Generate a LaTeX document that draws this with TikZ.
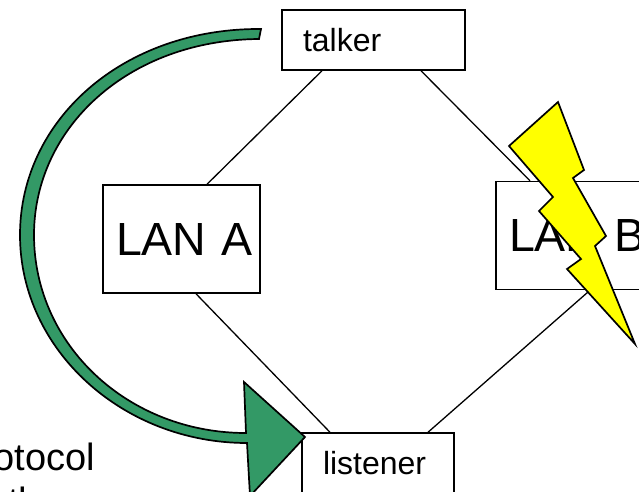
\documentclass[tikz,border=0pt]{standalone}
\usepackage{fontspec}
\setmainfont{Liberation Sans}
\usepackage{xcolor}
\usetikzlibrary{calc}
\definecolor{arcgreen}{HTML}{339966}
\definecolor{boltyellow}{HTML}{FFFF00}
\tikzset{
  stationbox/.style={draw,line width=1.5pt,fill=white,inner ysep=0pt,align=left},
  lanbox/.style={stationbox,inner xsep=13pt,text width=131pt,minimum height=108pt,font=\fontsize{46.5}{50}\selectfont},
  hostbox/.style={stationbox,inner xsep=21pt,font=\fontsize{32}{36}\selectfont},
  link/.style={line width=1.3pt}
}
\begin{document}
\begin{tikzpicture}[x=1pt,y=-1pt]
\useasboundingbox (0,0) rectangle (639,491);
\clip (0,0) rectangle (639,491);
% Stations
\node[hostbox,text width=141pt,minimum height=60pt] (talker) at (373.5,40) {talker};
\node[hostbox,text width=110pt,minimum height=60pt] (listener) at (378,463) {listener};
\node[lanbox] (lana) at (181.5,239) {\mbox{LAN A}};
\node[lanbox] (lanb) at (574.5,235.5) {\mbox{LAN B}};
% links
\draw[link] ([xshift=-51.5pt]talker.south) -- ([xshift=25.5pt]lana.north);
\draw[link] ([xshift=47.5pt]talker.south) -- ([xshift=-44.5pt]lanb.north);
\draw[link] ([xshift=14.5pt]lana.south) -- ([xshift=-48pt]listener.north);
\draw[link] ([xshift=15.5pt]lanb.south) -- ([xshift=50pt]listener.north);
% cut off text
\node[anchor=base east,inner sep=0pt,font=\fontsize{38}{40}\selectfont] (protocol) at (95,470) {protocol};
\node[anchor=base west,inner sep=0pt,font=\fontsize{38}{40}\selectfont] (lastline) at (8,514) {the};
% curved arrow
\draw[line width=1.7pt,fill=arcgreen,line join=miter]
  (261,29) .. controls (123,28) and (20,120) .. (20,235)
  .. controls (20,350) and (123,443) .. (247,443)
  -- (250,496) -- (305,437) -- (244,382) -- (246,433)
  .. controls (128,433) and (34,345) .. (34,235)
  .. controls (34,128) and (128,40) .. (259,39) -- cycle;
% lightning
\draw[line width=1.7pt,fill=boltyellow,line join=miter]
  (558,102) -- (584,170) -- (573,178) -- (606,236) -- (595,246) -- (635,344)
  -- (567,269) -- (581,259) -- (539,211) -- (553,197) -- (509,146) -- cycle;
\end{tikzpicture}
\end{document}
